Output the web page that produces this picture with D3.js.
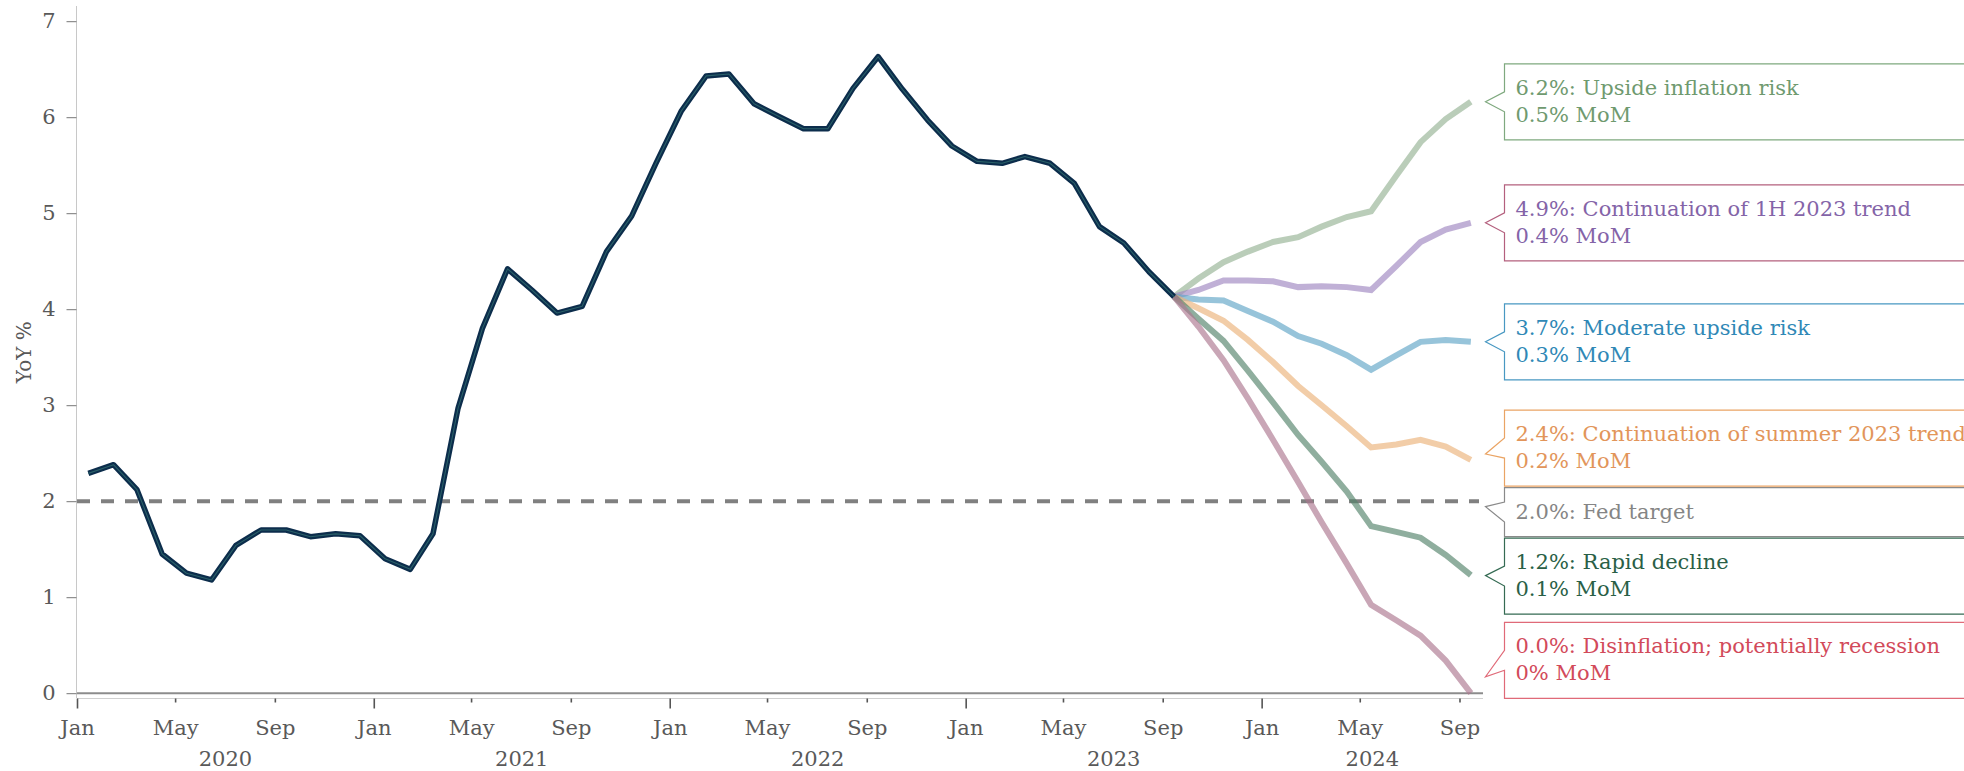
<!DOCTYPE html>
<html>
<head>
<meta charset="utf-8">
<script src="https://cdn.jsdelivr.net/npm/d3@7/dist/d3.min.js"></script>
<style>
  body { margin: 0; background: #fff; }
  svg { display: block; font-family: "DejaVu Serif", serif; }
</style>
</head>
<body>
<div class="chart"></div>
<script>
var values = {
  width: 1964,
  height: 771,
  left: 77,
  right: 1483,
  top: 6.6,
  bottom: 698
};

// core CPI, YoY %, monthly from Jan 2020 to Sep 2023
var historyStart = new Date(2020, 0, 15);
var historyCpi = [
  2.29, 2.38, 2.12, 1.45, 1.25, 1.18, 1.54, 1.70, 1.70, 1.63, 1.66, 1.64,
  1.40, 1.29, 1.66, 2.97, 3.80, 4.42, 4.20, 3.96, 4.03, 4.60, 4.97, 5.52,
  6.06, 6.43, 6.45, 6.14, 6.01, 5.88, 5.88, 6.30, 6.63, 6.29, 5.97, 5.70,
  5.54, 5.52, 5.59, 5.52, 5.31, 4.86, 4.69, 4.39, 4.13
];

// scenarios, monthly from Sep 2023 to Sep 2024
var scenarioStart = new Date(2023, 8, 15);
var upsideRisk   = [4.13, 4.32, 4.49, 4.60, 4.70, 4.75, 4.86, 4.96, 5.02, 5.39, 5.74, 5.98, 6.16];
var trend1H      = [4.13, 4.20, 4.30, 4.30, 4.29, 4.23, 4.24, 4.23, 4.20, 4.45, 4.70, 4.83, 4.90];
var moderateRisk = [4.13, 4.10, 4.09, 3.98, 3.87, 3.72, 3.64, 3.52, 3.37, 3.52, 3.66, 3.68, 3.66];
var summerTrend  = [4.13, 4.01, 3.88, 3.68, 3.45, 3.20, 3.00, 2.78, 2.56, 2.59, 2.64, 2.57, 2.43];
var rapidDecline = [4.13, 3.90, 3.67, 3.36, 3.03, 2.69, 2.41, 2.10, 1.74, 1.68, 1.62, 1.44, 1.23];
var disinflation = [4.13, 3.82, 3.47, 3.07, 2.64, 2.20, 1.78, 1.35, 0.92, 0.76, 0.60, 0.34, 0.00];

var fedTarget = 2;
var yTicks = [0, 1, 2, 3, 4, 5, 6, 7];
var yLabel = "YoY %";

var scenarios = [
  { values: upsideRisk,   line: "#95b294", text: "#6f9a6f", border: "#7fa97f", label: "6.2%: Upside inflation risk", mom: "0.5% MoM" },
  { values: trend1H,      line: "#9e86c0", text: "#8464a8", border: "#b4607e", label: "4.9%: Continuation of 1H 2023 trend", mom: "0.4% MoM" },
  { values: moderateRisk, line: "#5fa4c6", text: "#2f88b6", border: "#4898c2", label: "3.7%: Moderate upside risk", mom: "0.3% MoM" },
  { values: summerTrend,  line: "#ebb27a", text: "#e2955a", border: "#eaa464", label: "2.4%: Continuation of summer 2023 trend", mom: "0.2% MoM" },
  { values: rapidDecline, line: "#53836a", text: "#2a5f46", border: "#356b53", label: "1.2%: Rapid decline", mom: "0.1% MoM" },
  { values: disinflation, line: "#ac768f", text: "#d24a5a", border: "#e06a78", label: "0.0%: Disinflation; potentially recession", mom: "0% MoM" }
];

var x = d3.scaleTime()
  .domain([new Date(2020, 0, 1), new Date(2024, 8, 30)])
  .range([values.left, values.right]);

var y = d3.scaleLinear()
  .domain([-0.05, 7.15])
  .range([values.bottom, 6.8]);

var svg = d3.select('.chart')
  .append('svg')
  .attr("width", values.width)
  .attr("height", values.height);

// fed target dashed line
svg.append("line")
  .attr("x1", values.left).attr("x2", values.right - 4)
  .attr("y1", y(fedTarget)).attr("y2", y(fedTarget))
  .attr("stroke", "#808080")
  .attr("stroke-width", 4)
  .attr("stroke-dasharray", "13,11");

// zero line
svg.append("line")
  .attr("x1", values.left).attr("x2", values.right)
  .attr("y1", y(0)).attr("y2", y(0))
  .attr("stroke", "#8c8c8c")
  .attr("stroke-width", 2);

var line = d3.line()
  .x(d => x(d.date))
  .y(d => y(d.v));

// scenario lines
scenarios.forEach(s => {
  var pts = s.values.map((v, i) => ({ date: d3.timeMonth.offset(scenarioStart, i), v: v }));
  svg.append("path")
    .datum(pts)
    .attr("d", line)
    .attr("fill", "none")
    .attr("stroke", s.line)
    .attr("stroke-opacity", 0.65)
    .attr("stroke-width", 6);
});

// history line
var historyPts = historyCpi.map((v, i) => ({ date: d3.timeMonth.offset(historyStart, i), v: v }));
svg.append("path")
  .datum(historyPts)
  .attr("d", line)
  .attr("fill", "none")
  .attr("stroke", "#0c2d4c")
  .attr("stroke-width", 5.5)
  .attr("stroke-linejoin", "round");
svg.append("path")
  .datum(historyPts)
  .attr("d", line)
  .attr("fill", "none")
  .attr("stroke", "#2a6068")
  .attr("stroke-width", 1.1)
  .attr("stroke-linejoin", "round");

// y axis
svg.append("line")
  .attr("x1", values.left - 0.5).attr("x2", values.left - 0.5)
  .attr("y1", values.top - 0.6).attr("y2", values.bottom)
  .attr("stroke", "#c8c8c8");

var yAxis = svg.append("g")
  .attr("transform", "translate(" + (values.left - 0.5) + ",0)")
  .call(d3.axisLeft(y).tickValues(yTicks).tickSize(10).tickPadding(11).tickFormat(d3.format("d")));
yAxis.select(".domain").remove();
yAxis.selectAll(".tick line").attr("stroke", "#777");
yAxis.selectAll(".tick text")
  .attr("fill", "#595959")
  .style("font-size", "21px")
  .style("font-family", "DejaVu Serif, serif");

svg.append("text")
  .attr("transform", "translate(24," + ((values.top + values.bottom) / 2) + ") rotate(-90)")
  .attr("text-anchor", "middle")
  .attr("dominant-baseline", "central")
  .attr("fill", "#595959")
  .style("font-size", "20px")
  .text(yLabel);

// x axis
svg.append("line")
  .attr("x1", values.left).attr("x2", values.right)
  .attr("y1", values.bottom + 0.5).attr("y2", values.bottom + 0.5)
  .attr("stroke", "#d0d0d0");

var xAxis = svg.append("g")
  .attr("transform", "translate(0," + (values.bottom + 0.5) + ")")
  .call(d3.axisBottom(x).ticks(d3.timeMonth.every(4)).tickFormat(d3.timeFormat("%b")));
xAxis.select(".domain").remove();
xAxis.selectAll(".tick line")
  .attr("stroke", "#555")
  .attr("stroke-width", 1.6)
  .attr("y2", d => d.getMonth() === 0 ? 10 : 4);
xAxis.selectAll(".tick text")
  .attr("y", 36)
  .attr("dy", 0)
  .attr("fill", "#595959")
  .style("font-size", "21px")
  .style("font-family", "DejaVu Serif, serif");

// year labels, centred on the visible part of each year
var dom = x.domain();
d3.timeYear.range(d3.timeYear.floor(dom[0]), dom[1]).forEach(yr => {
  var a = yr < dom[0] ? dom[0] : yr;
  var nxt = d3.timeYear.offset(yr, 1);
  var b = nxt > dom[1] ? dom[1] : nxt;
  svg.append("text")
    .attr("x", (x(a) + x(b)) / 2)
    .attr("y", 766)
    .attr("text-anchor", "middle")
    .attr("fill", "#595959")
    .style("font-size", "21px")
    .text(yr.getFullYear());
});

// annotations
var notes = scenarios.map(s => ({
  target: y(s.values[s.values.length - 1]),
  lines: [s.label, s.mom],
  text: s.text,
  border: s.border
}));
notes.push({ target: y(fedTarget), lines: ["2.0%: Fed target"], text: "#858585", border: "#8a8a8a" });
notes.forEach(n => { n.h = 22 + 27 * n.lines.length; n.cy = n.target; });
notes.sort((a, b) => a.target - b.target);

var gap = 1.5;
for (var it = 0; it < 200; it++) {
  for (var i = 1; i < notes.length; i++) {
    var a = notes[i - 1], b = notes[i];
    var overlap = (a.cy + a.h / 2 + gap) - (b.cy - b.h / 2);
    if (overlap > 0) { a.cy -= overlap / 2; b.cy += overlap / 2; }
  }
  notes.forEach(n => {
    n.cy = Math.max(values.top + n.h / 2, Math.min(values.bottom + 0.3 - n.h / 2, n.cy));
  });
}

var boxX = 1504.5, tipX = 1485.5, boxR = 1995;
notes.forEach(n => {
  var top = n.cy - n.h / 2, bot = n.cy + n.h / 2;
  var tipY = (n.cy + n.target) / 2;
  var g = svg.append("g");
  g.append("path")
    .attr("d", "M" + boxX + "," + top + "H" + boxR + "V" + bot + "H" + boxX +
      "V" + (n.cy + 10) + "L" + tipX + "," + tipY + "L" + boxX + "," + (n.cy - 10) + "Z")
    .attr("fill", "#fff")
    .attr("stroke", n.border)
    .attr("stroke-width", 1.2);
  n.lines.forEach((t, k) => {
    g.append("text")
      .attr("x", 1515.5)
      .attr("y", top + 31 + k * 26.7)
      .attr("fill", n.text)
      .style("font-size", "21px")
      .text(t);
  });
});
</script>
</body>
</html>
